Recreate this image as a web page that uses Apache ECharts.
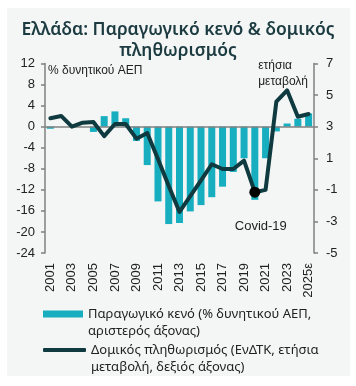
<!DOCTYPE html>
<html><head><meta charset="utf-8">
<script src="https://cdn.jsdelivr.net/npm/echarts@6/dist/echarts.min.js"></script>
<style>html,body{margin:0;padding:0;background:#fff}#c{width:356px;height:386px}</style>
</head><body><div id="c"></div>
<script>
const years = ['2001','2002','2003','2004','2005','2006','2007','2008','2009','2010','2011','2012','2013','2014','2015','2016','2017','2018','2019','2020','2021','2022','2023','2024','2025ε'];
const outputGap = [-0.4,0,0,0,-1.0,2.0,2.9,1.6,-2.7,-7.3,-14.2,-18.5,-18.3,-16.1,-14.9,-13.4,-11.4,-8.6,-6.0,-13.9,-6.0,-0.9,0.6,1.5,2.5];
const coreInfl = [3.53,3.68,3.0,3.25,3.3,2.4,3.17,3.17,2.24,2.6,0.95,-0.75,-2.4,-1.4,-0.4,0.62,0.32,0.32,0.85,-1.15,-1.0,4.58,5.3,3.63,3.8];
const leftTicks = {min:-24, max:12, interval:4};
const rightTicks = {min:-5, max:7, interval:2};
const name1 = 'Παραγωγικό κενό (% δυνητικού ΑΕΠ,\nαριστερός άξονας)';
const name2 = 'Δομικός πληθωρισμός (ΕνΔΤΚ, ετήσια\nμεταβολή, δεξιός άξονας)';
const covidYear = '2020';

const teal = '#17aebf', dark = '#0f3a3f', axisGray = '#808080', txt = '#222';
const plotFont = 'Liberation Sans';
const legFont = 'Noto Sans';

const chart = echarts.init(document.getElementById('c'), null, {renderer:'canvas'});
const lineData = coreInfl.map((v,i)=> years[i]===covidYear ? {
  value:v, symbol:'circle', symbolSize:11, itemStyle:{color:'#000'},
  label:{show:true, formatter:'Covid-19', position:'bottom', distance:0, offset:[6,22], color:txt, fontSize:13, fontFamily:plotFont}
} : v);

const legText = {fontSize:13, fontFamily:legFont, color:txt, lineHeight:17};
chart.setOption({
  animation:false,
  graphic:[
    {type:'rect', z:-10, shape:{x:7,y:8,width:343,height:368}, style:{fill:'#f4f6f6'}},
    {type:'text', left:48, top:65, style:{text:'% δυνητικού ΑΕΠ', fontSize:12, fontFamily:plotFont, fill:txt}},
    {type:'text', right:48, top:58, style:{text:'ετήσια\nμεταβολή', fontSize:12, fontFamily:plotFont, fill:txt, align:'right', lineHeight:16}}
  ],
  title:{text:'Ελλάδα: Παραγωγικό κενό & δομικός\nπληθωρισμός', left:'center', top:15,
    textStyle:{fontSize:17.5, fontWeight:600, fontFamily:'Noto Sans', color:'#1b3b40', lineHeight:21}},
  grid:{left:45, right:42, top:63.5, bottom:133},
  legend:[
    {data:[{name:name1, icon:'rect'}], orient:'vertical', left:43, top:288.5, padding:0, itemWidth:40, itemHeight:7, itemGap:0,
     formatter:n=>'\n'+n, textStyle:legText},
    {data:[{name:name2, icon:'roundRect'}], orient:'vertical', left:43, top:324.5, padding:0, itemWidth:43, itemHeight:4, itemGap:0,
     formatter:n=>'\n'+n, textStyle:legText}
  ],
  xAxis:{type:'category', data:years, position:'bottom',
    axisLine:{show:false, onZero:false}, axisTick:{show:false},
    axisLabel:{interval:1, rotate:90, margin:10, fontSize:13, fontFamily:plotFont, color:txt}},
  yAxis:[
    {type:'value', min:leftTicks.min, max:leftTicks.max, interval:leftTicks.interval, position:'left',
     axisLine:{show:true, lineStyle:{color:axisGray, width:1.5}}, axisTick:{show:true, length:4, lineStyle:{color:axisGray, width:1.5}},
     splitLine:{show:false}, axisLabel:{margin:10, fontSize:13, fontFamily:plotFont, color:txt}},
    {type:'value', min:rightTicks.min, max:rightTicks.max, interval:rightTicks.interval, position:'right',
     axisLine:{show:true, lineStyle:{color:axisGray, width:1.5}}, axisTick:{show:true, length:4, lineStyle:{color:axisGray, width:1.5}},
     splitLine:{show:false}, axisLabel:{margin:12, fontSize:13, fontFamily:plotFont, color:txt}}
  ],
  series:[
    {name:name1, type:'bar', yAxisIndex:0, data:outputGap, barWidth:7, itemStyle:{color:teal},
     markLine:{silent:true, symbol:'none', label:{show:false}, lineStyle:{color:axisGray, width:1.5, type:'solid'}, data:[{yAxis:0}]}},
    {name:name2, type:'line', yAxisIndex:1, data:lineData, symbol:'none', z:5,
     lineStyle:{color:dark, width:4, cap:'round', join:'round'}, itemStyle:{color:dark}}
  ]
});
</script></body></html>
